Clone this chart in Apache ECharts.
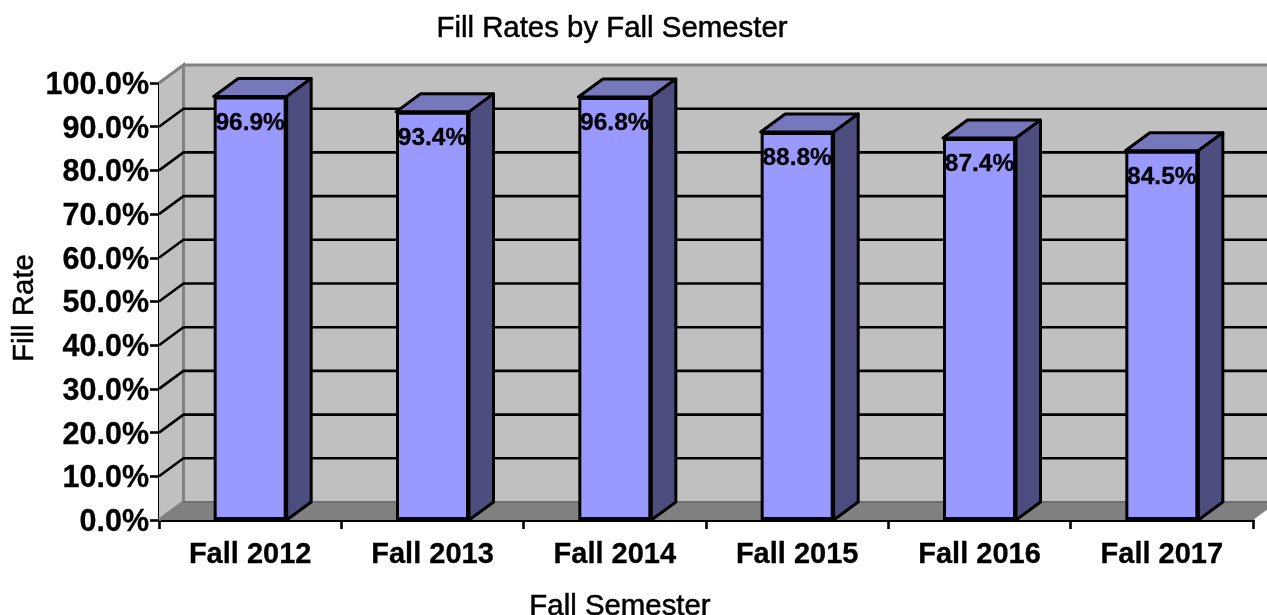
<!DOCTYPE html>
<html>
<head>
<meta charset="utf-8">
<style>html,body{margin:0;padding:0;background:#fff}#c{width:1267px;height:615px}</style>
<script src="https://cdn.jsdelivr.net/npm/echarts@6/dist/echarts.min.js"></script>
</head>
<body>
<div id="c"></div>
<script>
const categories = ['Fall 2012','Fall 2013','Fall 2014','Fall 2015','Fall 2016','Fall 2017'];
const fillRates = [96.9, 93.4, 96.8, 88.8, 87.4, 84.5];
const gridValues = [10,20,30,40,50,60,70,80,90];
const titleText = 'Fill Rates by Fall Semester';
const xName = 'Fall Semester';
const yName = 'Fill Rate';

const FONT = '"Liberation Sans", Arial, sans-serif';
const DX = 24.5, DY = 18, BAR_W = 73, LW = 2.6, BAR_LW = 3;
const heavy = {textBorderColor:'#000', textBorderWidth:0.5};
const heavyBold = {textBorderColor:'#000', textBorderWidth:0.3};

const chart = echarts.init(document.getElementById('c'), null, {renderer:'canvas'});

function walls(params, api){
  const c = params.coordSys;
  const x0 = c.x, x1 = c.x + c.width, y0 = api.coord([0,0])[1], yT = api.coord([0,100])[1];
  const gray = {stroke:'#808080', lineWidth:3, fill:null};
  return {type:'group', children:[
    {type:'rect', shape:{x:x0+DX,y:yT-DY,width:c.width,height:y0-yT}, style:{fill:'#C0C0C0'}},
    {type:'polygon', shape:{points:[[x0,y0],[x0+DX,y0-DY],[x0+DX,yT-DY],[x0,yT]]}, style:{fill:'#C0C0C0'}},
    {type:'polygon', shape:{points:[[x0,y0],[x0+DX,y0-DY],[x1+DX,y0-DY],[x1,y0]]}, style:{fill:'#808080'}},
    {type:'polyline', shape:{points:[[x0,yT],[x0+DX,yT-DY],[x0+DX,y0-DY],[x0,y0]]}, style:gray},
    {type:'line', shape:{x1:x0+DX,y1:yT-DY,x2:x1+DX,y2:yT-DY}, style:gray},
    {type:'line', shape:{x1:x0+DX,y1:y0-DY,x2:x1+DX,y2:y0-DY}, style:{stroke:'#6e6e6e',lineWidth:2}}
  ]};
}
function gridLine(params, api){
  const c = params.coordSys, y = api.coord([0, api.value(0)])[1];
  return {type:'polyline', shape:{points:[[c.x,y],[c.x+DX,y-DY],[c.x+c.width+DX,y-DY]]},
          style:{stroke:'#000',lineWidth:LW,fill:null}};
}
function barDepth(params, api){
  const i = api.value(0), v = api.value(1);
  const xc = api.coord([i,0])[0], yB = api.coord([i,0])[1], yV = api.coord([i,v])[1];
  const l = xc - BAR_W/2, r = xc + BAR_W/2;
  const st = f => ({fill:f, stroke:'#000', lineWidth:BAR_LW, lineJoin:'round'});
  return {type:'group', children:[
    {type:'polygon', shape:{points:[[l,yV],[l+DX,yV-DY],[r+DX,yV-DY],[r,yV]]}, style:st('#7777BB')},
    {type:'polygon', shape:{points:[[r,yV],[r+DX,yV-DY],[r+DX,yB-DY],[r,yB]]}, style:st('#4D4D80')}
  ]};
}

chart.setOption({
  animation:false,
  backgroundColor:'#fff',
  title:{text:titleText, left:607, top:9, textAlign:'center',
    textStyle:{fontFamily:FONT,fontSize:29.4,fontWeight:'normal',color:'#000',...heavy}},
  grid:{left:159, right:14, top:83, bottom:95, outerBoundsMode:'none'},
  xAxis:{type:'category', data:categories,
    name:xName, nameLocation:'middle', nameGap:72, nameMoveOverlap:false,
    nameTextStyle:{fontFamily:FONT,fontSize:29.4,color:'#000',padding:[0,172,0,0],...heavy},
    axisLine:{lineStyle:{color:'#000',width:BAR_LW}},
    axisTick:{show:true,alignWithLabel:false,length:9,lineStyle:{color:'#000',width:LW}},
    axisLabel:{fontFamily:FONT,fontSize:29,fontWeight:'bold',color:'#000',margin:20,interval:0,...heavyBold},
    splitLine:{show:false}},
  yAxis:{type:'value', min:0, max:100, interval:10,
    name:yName, nameLocation:'middle', nameGap:120, nameMoveOverlap:false,
    nameTextStyle:{fontFamily:FONT,fontSize:29.4,color:'#000',padding:[0,13,0,0],...heavy},
    axisLine:{show:true,lineStyle:{color:'#000',width:BAR_LW}},
    axisTick:{show:true,length:9,lineStyle:{color:'#000',width:LW}},
    axisLabel:{margin:10,
      formatter:v=>'{a|'+v.toFixed(1)+'%}',
      rich:{a:{fontFamily:FONT,fontSize:30.5,fontWeight:'bold',color:'#000',padding:[5,0,0,0],...heavyBold}}},
    splitLine:{show:false}},
  series:[
    {type:'custom', name:'walls', z:1, silent:true, clip:false, renderItem:walls, data:[[0]], encode:{y:0}},
    {type:'custom', name:'gridlines', z:2, silent:true, clip:false, renderItem:gridLine, data:gridValues.map(v=>[v]), encode:{y:0}},
    {type:'custom', name:'depth', z:3, silent:true, clip:false, renderItem:barDepth,
      data:fillRates.map((v,i)=>[i,v]), encode:{x:0,y:1}},
    {type:'bar', name:'Fill Rate', z:4, data:fillRates, barWidth:BAR_W,
      itemStyle:{color:'#9999FF',borderColor:'#000',borderWidth:BAR_LW},
      label:{show:true,position:'insideTop',distance:14,fontFamily:FONT,fontSize:24.5,fontWeight:'bold',color:'#000',...heavyBold,
        formatter:p=>p.value.toFixed(1)+'%'}}
  ]
});
</script>
</body>
</html>
